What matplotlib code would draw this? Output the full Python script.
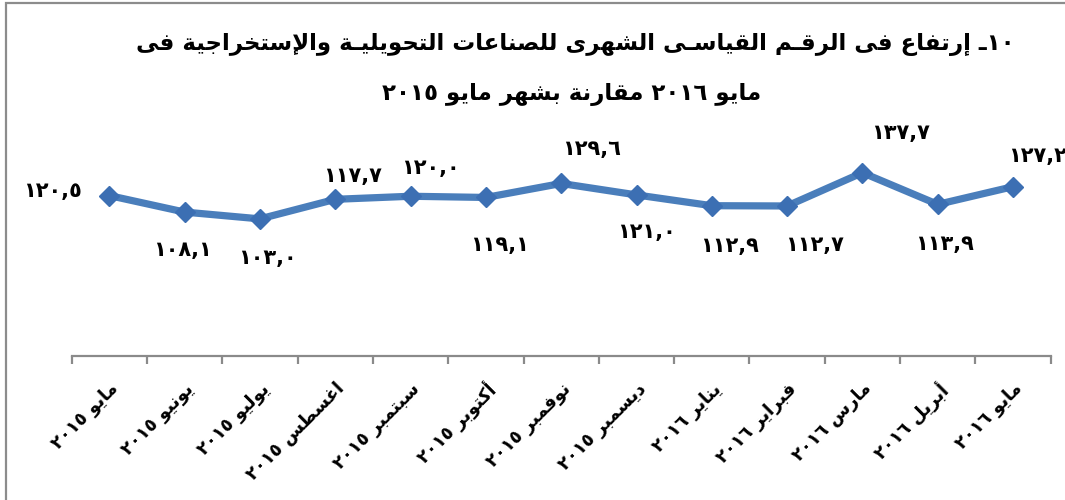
import re
import matplotlib
matplotlib.use('Agg')
import matplotlib.pyplot as plt
import numpy as np
from matplotlib.patches import Rectangle

# data
months = ['مايو', 'يونيو', 'يوليو', 'اغسطس', 'سبتمبر', 'أكتوبر', 'نوفمبر',
          'ديسمبر', 'يناير', 'فبراير', 'مارس', 'أبريل', 'مايو']
years = [2015, 2015, 2015, 2015, 2015, 2015, 2015, 2015, 2016, 2016, 2016, 2016, 2016]
values = [120.5, 108.1, 103.0, 117.7, 120.0, 119.1, 129.6, 121.0, 112.9, 112.7, 137.7, 113.9, 127.2]

title_1 = '١٠ـ إرتفاع فى الرقـم القياسـى الشهرى للصناعات التحويليـة والإستخراجية فى'
title_2 = 'مايو ٢٠١٦ مقارنة بشهر مايو ٢٠١٥'

# label offsets in pixels (dx right, dy down) from each marker
lab_off = [(-57, -5), (-2, 38), (7, 39), (17, -23), (20, -28), (14, 48), (30, -34),
           (10, 37), (18, 40), (27, 39), (38, -40), (7, 40), (24, -31)]

# --- tiny arabic shaper (matplotlib does no shaping / bidi) ---
BASE = {'ء': (0xFE80, 'U'), 'آ': (0xFE81, 'R'), 'أ': (0xFE83, 'R'), 'ؤ': (0xFE85, 'R'),
        'إ': (0xFE87, 'R'), 'ئ': (0xFE89, 'D'), 'ا': (0xFE8D, 'R'), 'ب': (0xFE8F, 'D'),
        'ة': (0xFE93, 'R'), 'ت': (0xFE95, 'D'), 'ث': (0xFE99, 'D'), 'ج': (0xFE9D, 'D'),
        'ح': (0xFEA1, 'D'), 'خ': (0xFEA5, 'D'), 'د': (0xFEA9, 'R'), 'ذ': (0xFEAB, 'R'),
        'ر': (0xFEAD, 'R'), 'ز': (0xFEAF, 'R'), 'س': (0xFEB1, 'D'), 'ش': (0xFEB5, 'D'),
        'ص': (0xFEB9, 'D'), 'ض': (0xFEBD, 'D'), 'ط': (0xFEC1, 'D'), 'ظ': (0xFEC5, 'D'),
        'ع': (0xFEC9, 'D'), 'غ': (0xFECD, 'D'), 'ف': (0xFED1, 'D'), 'ق': (0xFED5, 'D'),
        'ك': (0xFED9, 'D'), 'ل': (0xFEDD, 'D'), 'م': (0xFEE1, 'D'), 'ن': (0xFEE5, 'D'),
        'ه': (0xFEE9, 'D'), 'و': (0xFEED, 'R'), 'ى': (0xFEEF, 'R'), 'ي': (0xFEF1, 'D')}
LAM_ALEF = {'آ': 0xFEF5, 'أ': 0xFEF7, 'إ': 0xFEF9, 'ا': 0xFEFB}
TATWEEL = 'ـ'


def joins_prev(c):
    return c == TATWEEL or (c in BASE and BASE[c][1] in 'DR')


def shape(s):
    out, prev, i = [], False, 0
    while i < len(s):
        c = s[i]
        nxt = s[i + 1] if i + 1 < len(s) else ''
        if c == 'ل' and nxt in LAM_ALEF:
            out.append(chr(LAM_ALEF[nxt] + (1 if prev else 0)))
            prev = False
            i += 2
            continue
        if c in BASE:
            base, kind = BASE[c]
            to_prev = prev and kind != 'U'
            to_next = kind == 'D' and joins_prev(nxt)
            if kind == 'D':
                off = 3 if (to_prev and to_next) else 1 if to_prev else 2 if to_next else 0
            else:
                off = 1 if to_prev else 0
            out.append(chr(base + off))
            prev = to_next
        else:
            out.append(c)
            prev = c == TATWEEL
        i += 1
    return ''.join(out)


def ar(s):
    s = shape(s)
    runs = re.findall(r'[0-9٠-٩][0-9٠-٩,.]*|[^0-9٠-٩]+', s)
    runs = [r if re.match(r'[0-9٠-٩]', r) else r[::-1] for r in runs]
    return ''.join(runs[::-1])


DIG = str.maketrans('0123456789', '٠١٢٣٤٥٦٧٨٩')


def ar_num(v):
    return ('%.1f' % v).replace('.', ',').translate(DIG)


cats = [ar('%s %s' % (m, str(y).translate(DIG))) for m, y in zip(months, years)]

# --- figure ---
W, H = 1065, 500
fig = plt.figure(figsize=(W / 100, H / 100), dpi=100)
fig.patches.append(Rectangle((6 / W, -0.1), 2, 1.1 - 3 / H, transform=fig.transFigure,
                             fill=False, edgecolor='#8c8c8c', lw=1.6))

ax = fig.add_axes([71.7 / W, 1 - 356 / H, 979 / W, 213 / H])
x = np.arange(len(values))
ax.plot(x, values, color='#4a7ebb', lw=5.2, marker='D', markersize=10.5,
        markerfacecolor='#3c6fb3', markeredgecolor='#3c6fb3', zorder=3)

ax.set_xlim(-0.5, len(values) - 0.5)
ax.set_ylim(0, 160)
for s in ['left', 'right', 'top']:
    ax.spines[s].set_visible(False)
ax.spines['bottom'].set_color('#8a8a8a')
ax.spines['bottom'].set_linewidth(1.6)
ax.set_yticks([])
ax.set_xticks(x)
ax.set_xticklabels(cats, rotation=45, ha='right', va='top', rotation_mode='anchor',
                   fontsize=13, fontweight='bold', family=['DejaVu Sans'])
ax.tick_params(axis='x', which='major', length=0, pad=17)
ax.set_xticks(np.arange(len(values) + 1) - 0.5, minor=True)
ax.tick_params(axis='x', which='minor', length=6, width=1.6, color='#8a8a8a')

for xi, v, (dx, dy) in zip(x, values, lab_off):
    ax.annotate(ar_num(v), (xi, v), xytext=(dx * 0.72, -dy * 0.72), textcoords='offset points',
                ha='center', va='center', fontsize=15, fontweight='bold', color='black',
                annotation_clip=False)

fig.text(575 / W, 1 - 45 / H, ar(title_1), ha='center', va='center', fontsize=16.5,
         fontweight='bold', family=['DejaVu Sans'])
fig.text(572 / W, 1 - 94 / H, ar(title_2), ha='center', va='center', fontsize=16.5,
         fontweight='bold', family=['DejaVu Sans'])

fig.savefig('out.png', dpi=100)
